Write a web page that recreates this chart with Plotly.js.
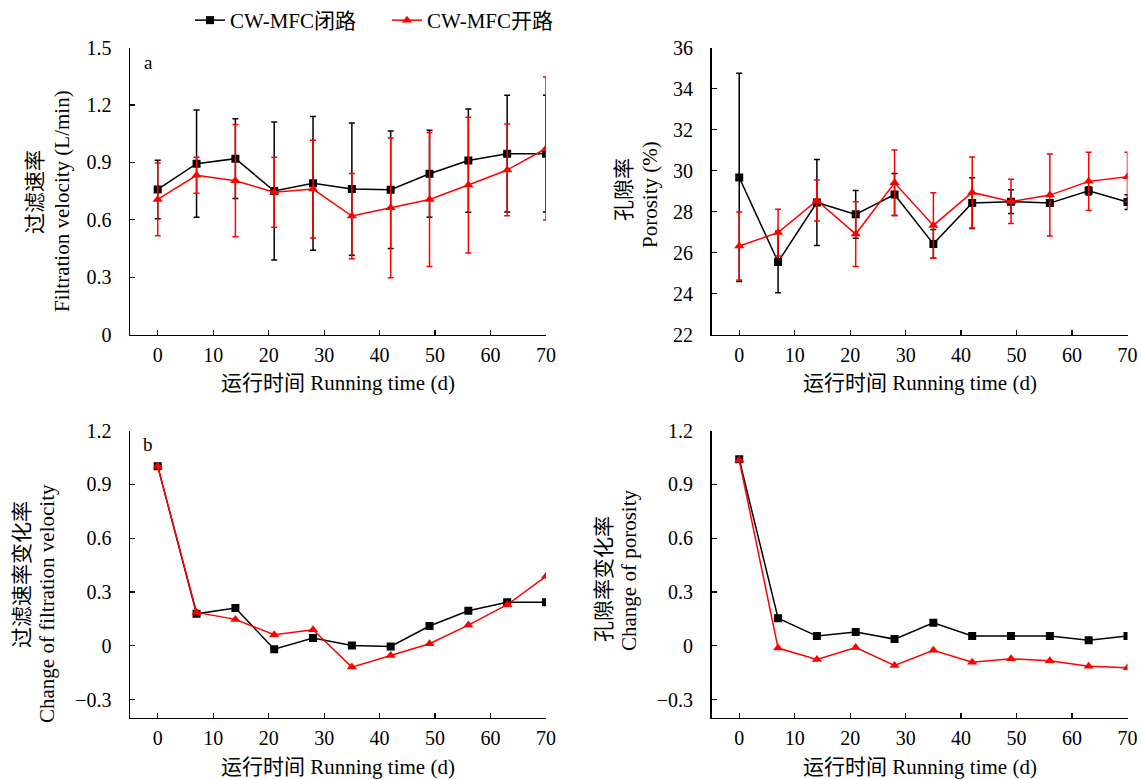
<!DOCTYPE html>
<html>
<head>
<meta charset="utf-8">
<script src="https://cdn.plot.ly/plotly-3.0.1.min.js"></script>
<style>html,body{margin:0;padding:0;background:#fff;}#chart{width:1141px;height:779px;}</style>
</head>
<body>
<div id="chart"></div>
<script>
// ---- data ----
const days = [0, 7, 14, 21, 28, 35, 42, 49, 56, 63, 70];
const seriesNames = ["CW-MFC闭路", "CW-MFC开路"];

const velClosed    = [0.758, 0.893, 0.919, 0.750, 0.790, 0.760, 0.757, 0.840, 0.909, 0.945, 0.945];
const velClosedErr = [0.153, 0.280, 0.208, 0.360, 0.350, 0.346, 0.307, 0.227, 0.270, 0.305, 0.305];
const velOpen      = [0.706, 0.832, 0.804, 0.744, 0.760, 0.619, 0.662, 0.706, 0.781, 0.860, 0.972];
const velOpenErr   = [0.190, 0.094, 0.293, 0.183, 0.255, 0.223, 0.365, 0.350, 0.355, 0.240, 0.374];

const porClosed    = [29.66, 25.54, 28.44, 27.86, 28.83, 26.42, 28.41, 28.48, 28.41, 29.01, 28.46];
const porClosedErr = [5.08, 1.50, 2.10, 1.16, 1.02, 0.70, 1.24, 0.58, 0.10, 0.20, 0.36];
const porOpen      = [26.32, 26.97, 28.54, 26.90, 29.40, 27.32, 28.93, 28.49, 28.80, 29.47, 29.69];
const porOpenErr   = [1.66, 1.14, 1.00, 1.58, 1.60, 1.60, 1.73, 1.08, 2.00, 1.42, 1.20];

const velChangeClosed = [1.000, 0.178, 0.210, -0.019, 0.043, 0.002, -0.004, 0.110, 0.195, 0.243, 0.243];
const velChangeOpen   = [1.000, 0.186, 0.147, 0.061, 0.089, -0.119, -0.054, 0.011, 0.115, 0.229, 0.387];
const porChangeClosed = [1.040, 0.154, 0.054, 0.076, 0.037, 0.128, 0.055, 0.054, 0.054, 0.031, 0.054];
const porChangeOpen   = [1.035, -0.013, -0.077, -0.010, -0.110, -0.025, -0.092, -0.073, -0.084, -0.114, -0.123];

const xTicks = [0, 10, 20, 30, 40, 50, 60, 70];
const changeTicks = [-0.3, 0, 0.3, 0.6, 0.9, 1.2];

// ---- styling ----
const FONT = "Liberation Serif, Noto Sans CJK SC, serif";
const W = 1141, H = 779;
const BLACK = "#000000", RED = "#ff0000";

function mk(x, y, err, color, symbol, name, xa, ya, showlegend) {
  const t = {
    x: x, y: y, type: "scatter", mode: "lines+markers",
    name: name, legendgroup: name, showlegend: showlegend,
    xaxis: xa, yaxis: ya,
    line: {color: color, width: 1.5},
    marker: {color: color, symbol: symbol, size: symbol === "square" ? 8 : 9}
  };
  if (err) {
    t.error_y = {type: "data", array: err, visible: true, color: color, thickness: 1.5, width: 3};
  }
  return t;
}

const traces = [
  mk(days, velClosed, velClosedErr, BLACK, "square", seriesNames[0], "x", "y", true),
  mk(days, velOpen, velOpenErr, RED, "triangle-up", seriesNames[1], "x", "y", true),
  mk(days, porClosed, porClosedErr, BLACK, "square", seriesNames[0], "x2", "y2", false),
  mk(days, porOpen, porOpenErr, RED, "triangle-up", seriesNames[1], "x2", "y2", false),
  mk(days, velChangeClosed, null, BLACK, "square", seriesNames[0], "x3", "y3", false),
  mk(days, velChangeOpen, null, RED, "triangle-up", seriesNames[1], "x3", "y3", false),
  mk(days, porChangeClosed, null, BLACK, "square", seriesNames[0], "x4", "y4", false),
  mk(days, porChangeOpen, null, RED, "triangle-up", seriesNames[1], "x4", "y4", false)
];

const leftDom = [130 / W, 546 / W];
const rightDom = [711.5 / W, 1127.5 / W];
const topDom = [1 - 334.5 / H, 1 - 47.5 / H];
const botDom = [1 - 717.5 / H, 1 - 430.5 / H];

function xax(dom, anchor) {
  return {
    domain: dom, anchor: anchor, range: [-5, 70], tickvals: xTicks,
    ticks: "inside", ticklen: 5, tickwidth: 1.2, tickcolor: BLACK,
    showline: true, linecolor: BLACK, linewidth: 1.5,
    showgrid: false, zeroline: false, ticklabelstandoff: 2,
    tickfont: {family: FONT, size: 20, color: BLACK}
  };
}
function yax(dom, anchor, range, extra) {
  return Object.assign({
    domain: dom, anchor: anchor, range: range,
    ticks: "inside", ticklen: 5, tickwidth: 1.2, tickcolor: BLACK,
    showline: true, linecolor: BLACK, linewidth: 1.5,
    showgrid: false, zeroline: false, ticklabelstandoff: 13,
    tickfont: {family: FONT, size: 20, color: BLACK}
  }, extra);
}

const annFont = {family: FONT, size: 21, color: BLACK};
function px(x) { return x / W; }
function py(y) { return 1 - y / H; }
function ann(text, x, y, angle, size) {
  return {
    text: text, xref: "paper", yref: "paper", x: px(x), y: py(y),
    xanchor: "center", yanchor: "middle", showarrow: false,
    textangle: angle || 0, font: Object.assign({}, annFont, size ? {size: size} : {})
  };
}

const layout = {
  width: W, height: H,
  margin: {l: 0, r: 0, t: 0, b: 0},
  paper_bgcolor: "#ffffff", plot_bgcolor: "#ffffff",
  font: {family: FONT, color: BLACK},
  showlegend: true,
  legend: {
    orientation: "h", x: px(190), y: py(0), xanchor: "left", yanchor: "top",
    font: {family: FONT, size: 21, color: BLACK},
    entrywidth: 152, entrywidthmode: "pixels",
    bgcolor: "rgba(0,0,0,0)", tracegroupgap: 0, traceorder: "normal"
  },
  xaxis: xax(leftDom, "y"),
  yaxis: yax(topDom, "x", [0, 1.5], {dtick: 0.3, tick0: 0}),
  xaxis2: xax(rightDom, "y2"),
  yaxis2: yax(topDom, "x2", [22, 36], {dtick: 2, tick0: 22}),
  xaxis3: xax(leftDom, "y3"),
  yaxis3: yax(botDom, "x3", [-0.4, 1.2], {tickvals: changeTicks}),
  xaxis4: xax(rightDom, "y4"),
  yaxis4: yax(botDom, "x4", [-0.4, 1.2], {tickvals: changeTicks}),
  annotations: [
    ann("a", 148, 62, 0, 19),
    ann("b", 148, 444, 0, 19),
    ann("运行时间 Running time (d)", 338, 383),
    ann("运行时间 Running time (d)", 920, 383),
    ann("运行时间 Running time (d)", 338, 767),
    ann("运行时间 Running time (d)", 920, 767),
    ann("过滤速率", 35, 192, -90),
    ann("Filtration velocity (L/min)", 62, 201, -90),
    ann("孔隙率", 624, 190, -90),
    ann("Porosity (%)", 650, 195, -90),
    ann("过滤速率变化率", 22, 575, -90),
    ann("Change of filtration velocity", 47, 604, -90),
    ann("孔隙率变化率", 604, 579, -90),
    ann("Change of porosity", 629, 571, -90)
  ]
};

Plotly.newPlot("chart", traces, layout, {displayModeBar: false, staticPlot: true});
</script>
</body>
</html>
